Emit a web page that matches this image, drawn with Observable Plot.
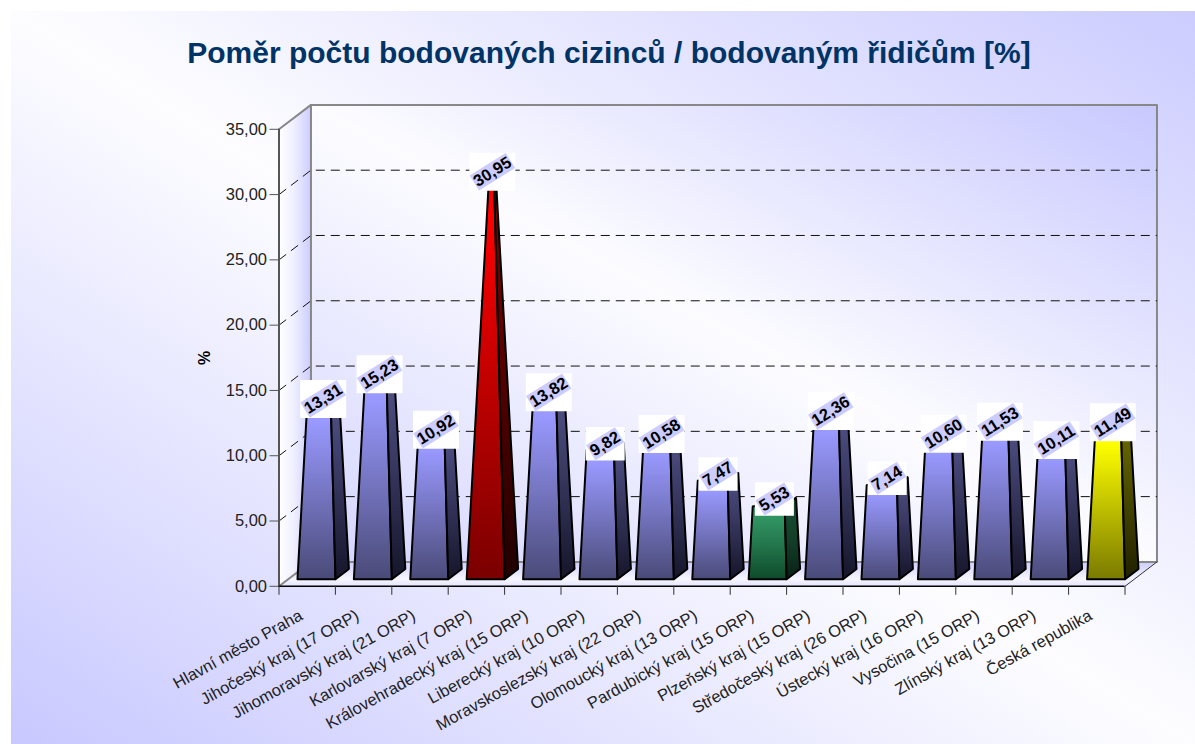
<!DOCTYPE html>
<html lang="cs"><head><meta charset="utf-8">
<script src="https://cdn.jsdelivr.net/npm/d3@7"></script>
<script src="https://cdn.jsdelivr.net/npm/@observablehq/plot@0.6"></script>
<style>
html,body{margin:0;padding:0;background:#fff;overflow:hidden;width:1195px;height:744px}
#card{position:absolute;left:11px;top:11px;width:1184px;height:733px;background:linear-gradient(to top right,#c8c8ff,#fdfdff 50%,#ccccff)}
#title{height:80px;box-sizing:border-box;padding-top:25px;text-align:center;margin:0 0 0 12px;font:bold 30px/34px "Liberation Sans",Arial,sans-serif;color:#003366}
svg{display:block;background:transparent}
</style></head><body>
<div id="card"><h1 id="title">Poměr počtu bodovaných cizinců / bodovaným řidičům [%]</h1></div>
<script>
const regions = ["Hlavní město Praha","Jihočeský kraj (17 ORP)","Jihomoravský kraj (21 ORP)","Karlovarský kraj (7 ORP)","Královehradecký kraj (15 ORP)","Liberecký kraj (10 ORP)","Moravskoslezský kraj (22 ORP)","Olomoucký kraj (13 ORP)","Pardubický kraj (15 ORP)","Plzeňský kraj (15 ORP)","Středočeský kraj (26 ORP)","Ústecký kraj (16 ORP)","Vysočina (15 ORP)","Zlínský kraj (13 ORP)","Česká republika"];
const shares = [13.31,15.23,10.92,30.95,13.82,9.82,10.58,7.47,5.53,12.36,7.14,10.60,11.53,10.11,11.49];
const tones = ["blue","blue","blue","red","blue","blue","blue","blue","green","blue","blue","blue","blue","blue","yellow"];
const yTicks = [0,5,10,15,20,25,30,35];
const gridValues = [5,10,15,20,25,30];
const yMax = 35;

// Depth of the pseudo-3D box, in scale units
const DX = 0.567, DY = 1.868, HALF = 0.337, NEAR = 0.29, FAR = 0.71;
const n = regions.length;
const comma = v => v.toFixed(2).replace(".", ",");

function pyramid(i, side, depth, t) {
  const bx = i + .5 + side*HALF + depth*DX, by = depth*DY;
  const ax = i + .5 + .5*DX, ay = .5*DY + yMax;
  return {x: bx + (ax-bx)*t, y: by + (ay-by)*t};
}
const faces = [];
shares.forEach((v,i) => {
  const t = v/yMax, tone = tones[i];
  const q = (kind, pts) => pts.forEach(p => faces.push({...p, id:kind+i, paint:`url(#${tone}-${kind})`, kind}));
  q("front",[pyramid(i,-1,NEAR,0),pyramid(i,1,NEAR,0),pyramid(i,1,NEAR,t),pyramid(i,-1,NEAR,t),pyramid(i,-1,NEAR,0)]);
  q("side",[pyramid(i,1,NEAR,0),pyramid(i,1,FAR,0),pyramid(i,1,FAR,t),pyramid(i,1,NEAR,t),pyramid(i,1,NEAR,0)]);
});
const poly = pts => pts.map(([x,y]) => ({x,y}));
const wall = poly([[DX,DY],[n+DX,DY],[n+DX,yMax+DY],[DX,yMax+DY],[DX,DY]]);
const sideWall = poly([[0,0],[DX,DY],[DX,yMax+DY],[0,yMax],[0,0]]);
const floor = poly([[0,0],[n,0],[n+DX,DY],[DX,DY],[0,0]]);
const frame = poly([[0,yMax],[DX,yMax+DY],[n+DX,yMax+DY],[n+DX,DY],[DX,DY],[0,0]]);
const frameV = poly([[DX,yMax+DY],[DX,DY]]);
const floorEdge = poly([[n,0],[n+DX,DY]]);
const grid = gridValues.flatMap(v => [{x:0,y:v,z:v},{x:DX,y:v+DY,z:v},{x:n+DX,y:v+DY,z:v}]);
const labels = shares.map((v,i) => ({x:i+.5+.5*DX, y:1.23+.986*v, text:comma(v), wide:comma(v).length>4}));

const A = 32*Math.PI/180;
const rectSym = (hw,hh,a) => ({draw(c){
  const C=Math.cos(a),S=Math.sin(a);
  [[-hw,-hh],[hw,-hh],[hw,hh],[-hw,hh]].forEach(([x,y],k)=>{
    const X=x*C+y*S,Y=-x*S+y*C; k?c.lineTo(X,Y):c.moveTo(X,Y);});
  c.closePath();
}});

const stops = {
  "blue-front":["#9999ff","#7272bc","#4a4a78"],
  "blue-side":["#4c4c80","#313156","#15152a"],
  "red-front":["#ff0000","#bc0000","#7a0000"],
  "red-side":["#800000","#500000","#200000"],
  "green-front":["#339966","#22744a","#0e4a2c"],
  "green-side":["#1a4d33","#133d28","#082014"],
  "yellow-front":["#ffff00","#bcbc00","#7a7a00"],
  "yellow-side":["#666600","#434300","#202000"]
};
function defs(){
  const g = d3.create("svg:defs");
  const vert = (id,cols,off) => {
    const l = g.append("linearGradient").attr("id",id).attr("x1",0).attr("y1",0).attr("x2",0).attr("y2",1);
    cols.forEach((c,i)=>l.append("stop").attr("offset",off?off[i]:i/(cols.length-1)).attr("stop-color",c));
  };
  for (const k in stops) vert(k,stops[k],[.1,.55,1]);
  vert("floorfill",["#ccccff","#f6f6ff","#e4e4ff"],[0,.7,1]);
  const w = g.append("linearGradient").attr("id","wallfill").attr("x1",0).attr("y1",1).attr("x2",1).attr("y2",0);
  [[0,"#d4d4ff"],[.5,"#fcfcff"],[1,"#c8c8ff"]].forEach(([o,c])=>w.append("stop").attr("offset",o).attr("stop-color",c));
  const s = g.append("linearGradient").attr("id","sidefill").attr("x1",0).attr("y1",0).attr("x2",1).attr("y2",0);
  [[0,"#ffffff"],[.45,"#f0f0ff"],[1,"#ccccff"]].forEach(([o,c])=>s.append("stop").attr("offset",o).attr("stop-color",c));
  return g.node();
}

const chart = Plot.plot({
  width:1184, height:653,
  marginLeft:267.5, marginRight:70.5, marginTop:37.8, marginBottom:158.2,
  x:{domain:[0,n]}, y:{domain:[0,yMax]},
  style:{background:"transparent",fontFamily:'"Liberation Sans",Arial,sans-serif'},
  marks:[
    defs,
    Plot.line(wall,{x:"x",y:"y",fill:"url(#wallfill)",stroke:"none"}),
    Plot.line(sideWall,{x:"x",y:"y",fill:"url(#sidefill)",stroke:"none"}),
    Plot.line(floor,{x:"x",y:"y",fill:"url(#floorfill)",stroke:"none"}),
    Plot.line(frame,{x:"x",y:"y",stroke:"#888888",strokeWidth:2}),
    Plot.line(frameV,{x:"x",y:"y",stroke:"#888888",strokeWidth:2}),
    Plot.line(floorEdge,{x:"x",y:"y",stroke:"#333",strokeWidth:1}),
    Plot.line(grid,{x:"x",y:"y",z:"z",stroke:"#111",strokeWidth:1,strokeDasharray:"9 6",strokeLinecap:"butt"}),
    Plot.line(faces,{x:"x",y:"y",z:"id",fill:{value:"paint",scale:null},stroke:"#000",strokeWidth:2,strokeLinejoin:"miter"}),
    Plot.ruleX([0],{y1:0,y2:yMax,stroke:"#555",strokeWidth:2}),
    Plot.ruleY([0],{x1:0,x2:n,stroke:"#000",strokeWidth:1.5}),
    Plot.axisY({ticks:yTicks,tickFormat:comma,tickSize:9,tickPadding:3,fontSize:16.5,stroke:"#555",color:"#222",label:null,fontVariant:"normal"}),
    Plot.axisX({ticks:d3.range(n+1),tickFormat:()=>"",tickSize:9,stroke:"#333",label:null}),
    Plot.axisX({ticks:regions.map((_,i)=>i+.5),tickFormat:v=>regions[v-.5],tickSize:0,tickPadding:28,tickRotate:-29,textAnchor:"end",dx:-6,fontSize:16.5,color:"#222",label:null,fontVariant:"normal"}),
    Plot.text(["%"],{x:-1.31,y:17.5,rotate:-90,fontSize:16,fontWeight:"bold",fill:"#000",text:d=>d}),
    Plot.dot(labels,{filter:"wide",x:"x",y:"y",r:10,fill:"#fff",symbol:{draw(c){c.rect(-23,-19,46,38)}}}),
    Plot.dot(labels,{filter:d=>!d.wide,x:"x",y:"y",r:10,fill:"#fff",symbol:{draw(c){c.rect(-19.5,-16.8,39,33.6)}}}),
    Plot.dot(labels,{filter:"wide",x:"x",y:"y",r:10,fill:"#ccccff",symbol:rectSym(21.3,8.9,A)}),
    Plot.dot(labels,{filter:d=>!d.wide,x:"x",y:"y",r:10,fill:"#ccccff",symbol:rectSym(17,8.9,A)}),
    Plot.text(labels,{x:"x",y:"y",text:"text",rotate:-32,fontSize:16.5,fontWeight:"bold",fill:"#000"})
  ]
});
document.getElementById("card").appendChild(chart);
</script>
</body></html>
